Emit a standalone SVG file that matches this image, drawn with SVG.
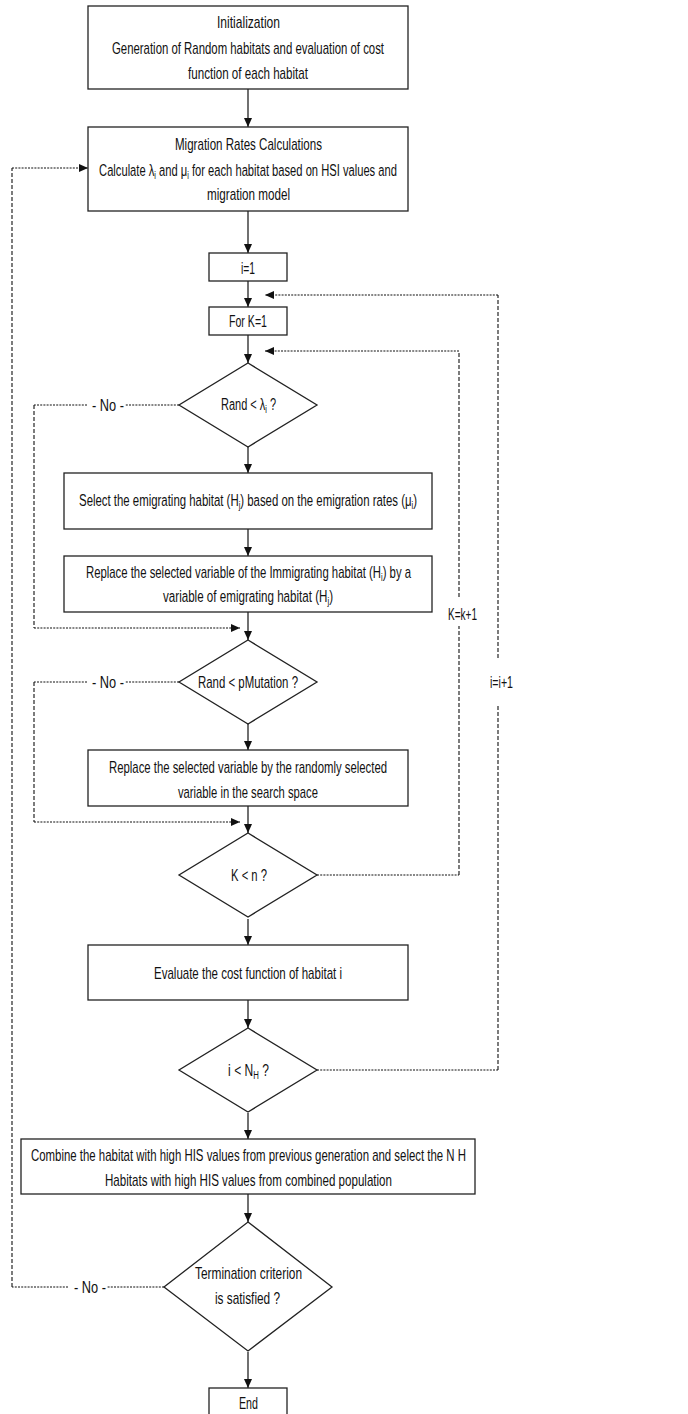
<svg xmlns="http://www.w3.org/2000/svg" width="688" height="1414" viewBox="0 0 688 1414">
<style>
.box{fill:#fff;stroke:#222;stroke-width:1.3}
.t{font-family:"Liberation Sans",Arial,sans-serif;font-size:17px;fill:#111;text-anchor:middle}
.s{font-size:11px}
.c{fill:none;stroke:#111;stroke-width:1.2}
.d{fill:none;stroke:#111;stroke-width:1.2;stroke-dasharray:2 1.2}
.dv{fill:none;stroke:#111;stroke-width:1.1;stroke-dasharray:4 2}
</style>
<defs>
<marker id="ah" markerWidth="9" markerHeight="8" refX="9" refY="4" orient="auto" markerUnits="userSpaceOnUse">
<path d="M0,0 L9,4 L0,8 Z" fill="#111"/>
</marker>
</defs>
<rect width="688" height="1414" fill="#fff"/>

<g id="connectors">
<path class="c" d="M248,89 V127" marker-end="url(#ah)"/>
<path class="c" d="M248,211 V253" marker-end="url(#ah)"/>
<path class="c" d="M248,281 V307" marker-end="url(#ah)"/>
<path class="c" d="M248,335 V363" marker-end="url(#ah)"/>
<path class="c" d="M248,447 V473" marker-end="url(#ah)"/>
<path class="c" d="M248,529 V556" marker-end="url(#ah)"/>
<path class="c" d="M248,612 V640" marker-end="url(#ah)"/>
<path class="c" d="M248,724 V750" marker-end="url(#ah)"/>
<path class="c" d="M248,806 V833" marker-end="url(#ah)"/>
<path class="c" d="M248,919 V945" marker-end="url(#ah)"/>
<path class="c" d="M248,1000 V1028" marker-end="url(#ah)"/>
<path class="c" d="M248,1113 V1139" marker-end="url(#ah)"/>
<path class="c" d="M248,1194 V1222" marker-end="url(#ah)"/>
<path class="c" d="M248,1352 V1388" marker-end="url(#ah)"/>

<path class="d" d="M164,1287 H107"/>
<path class="d" d="M68,1287 H12"/>
<path class="dv" d="M12,1287 V168"/>
<path class="d" d="M12,168 H88" marker-end="url(#ah)"/>
<text class="t" x="90" y="1293" textLength="32" lengthAdjust="spacingAndGlyphs">- No -</text>

<path class="d" d="M317,1070 H498"/>
<path class="dv" d="M498,1070 V705"/>
<path class="dv" d="M498,658 V295"/>
<path class="d" d="M498,295 H265" marker-end="url(#ah)"/>
<text class="t" x="501.5" y="688" textLength="23" lengthAdjust="spacingAndGlyphs">i=i+1</text>

<path class="d" d="M317,875 H459"/>
<path class="dv" d="M459,875 V626"/>
<path class="dv" d="M459,597 V351"/>
<path class="d" d="M459,351 H265" marker-end="url(#ah)"/>
<text class="t" x="462.5" y="620" textLength="29" lengthAdjust="spacingAndGlyphs">K=k+1</text>

<path class="d" d="M179,405 H125"/>
<path class="d" d="M87,405 H34"/>
<path class="dv" d="M34,405 V628"/>
<path class="d" d="M34,628 H240" marker-end="url(#ah)"/>
<text class="t" x="108" y="411" textLength="32" lengthAdjust="spacingAndGlyphs">- No -</text>

<path class="d" d="M179,682 H125"/>
<path class="d" d="M87,682 H34"/>
<path class="dv" d="M34,682 V822"/>
<path class="d" d="M34,822 H240" marker-end="url(#ah)"/>
<text class="t" x="108" y="688" textLength="32" lengthAdjust="spacingAndGlyphs">- No -</text>
</g>

<g id="init">
<rect class="box" x="88" y="6" width="320" height="83"/>
<text class="t" x="248.5" y="28" textLength="63" lengthAdjust="spacingAndGlyphs">Initialization</text>
<text class="t" x="248" y="54" textLength="272" lengthAdjust="spacingAndGlyphs">Generation of Random habitats and evaluation of cost</text>
<text class="t" x="248" y="79" textLength="120" lengthAdjust="spacingAndGlyphs">function of each habitat</text>
</g>

<g id="migration">
<rect class="box" x="88" y="127" width="320" height="84"/>
<text class="t" x="248.5" y="150" textLength="147" lengthAdjust="spacingAndGlyphs">Migration Rates Calculations</text>
<text class="t" transform="translate(248,176) scale(0.68,1)" x="0" y="0" textLength="438" lengthAdjust="spacingAndGlyphs">Calculate λ<tspan class="s" dy="3">i</tspan><tspan dy="-3"> and μ</tspan><tspan class="s" dy="3">i</tspan><tspan dy="-3"> for each habitat based on HSI values and</tspan></text>
<text class="t" x="248.5" y="200" textLength="83" lengthAdjust="spacingAndGlyphs">migration model</text>
</g>

<g id="i1">
<rect class="box" x="209" y="253" width="78" height="28"/>
<text class="t" x="248" y="274" textLength="14" lengthAdjust="spacingAndGlyphs">i=1</text>
</g>

<g id="k1">
<rect class="box" x="209" y="307" width="78" height="28"/>
<text class="t" x="248" y="327" textLength="38" lengthAdjust="spacingAndGlyphs">For K=1</text>
</g>

<g id="randLambda">
<path class="box" d="M248,363 L317,405 L248,447 L179,405 Z"/>
<text class="t" transform="translate(248.5,410) scale(0.68,1)" x="0" y="0" textLength="81" lengthAdjust="spacingAndGlyphs">Rand &lt; λ<tspan class="s" dy="3">i</tspan><tspan dy="-3"> ?</tspan></text>
</g>

<g id="selectEmig">
<rect class="box" x="64" y="473" width="368" height="56"/>
<text class="t" transform="translate(248,506) scale(0.68,1)" x="0" y="0" textLength="497" lengthAdjust="spacingAndGlyphs">Select the emigrating habitat (H<tspan class="s" dy="3">j</tspan><tspan dy="-3">) based on the emigration rates (μ</tspan><tspan class="s" dy="3">i</tspan><tspan dy="-3">)</tspan></text>
</g>

<g id="replaceImmig">
<rect class="box" x="64" y="556" width="368" height="56"/>
<text class="t" transform="translate(248.5,578) scale(0.64,1)" x="0" y="0" textLength="508" lengthAdjust="spacingAndGlyphs">Replace the selected variable of the Immigrating habitat (H<tspan class="s" dy="3">i</tspan><tspan dy="-3">) by a</tspan></text>
<text class="t" transform="translate(248,602) scale(0.68,1)" x="0" y="0" textLength="250" lengthAdjust="spacingAndGlyphs">variable of emigrating habitat (H<tspan class="s" dy="3">j</tspan><tspan dy="-3">)</tspan></text>
</g>

<g id="randMut">
<path class="box" d="M248,640 L317,682 L248,724 L179,682 Z"/>
<text class="t" x="248" y="688" textLength="100" lengthAdjust="spacingAndGlyphs">Rand &lt; pMutation ?</text>
</g>

<g id="replaceRandom">
<rect class="box" x="88" y="750" width="320" height="56"/>
<text class="t" x="248" y="773" textLength="278" lengthAdjust="spacingAndGlyphs">Replace the selected variable by the randomly selected</text>
<text class="t" x="248" y="798" textLength="140" lengthAdjust="spacingAndGlyphs">variable in the search space</text>
</g>

<g id="kLessN">
<path class="box" d="M248,833 L317,875 L248,917 L179,875 Z"/>
<text class="t" x="249" y="881" textLength="36" lengthAdjust="spacingAndGlyphs">K &lt; n ?</text>
</g>

<g id="evaluate">
<rect class="box" x="88" y="945" width="320" height="55"/>
<text class="t" x="248" y="979" textLength="188" lengthAdjust="spacingAndGlyphs">Evaluate the cost function of habitat i</text>
</g>

<g id="iLessNH">
<path class="box" d="M248,1028 L317,1070 L248,1112 L179,1070 Z"/>
<text class="t" transform="translate(248.5,1076) scale(0.68,1)" x="0" y="0" textLength="60" lengthAdjust="spacingAndGlyphs">i &lt; N<tspan class="s" dy="3">H</tspan><tspan dy="-3"> ?</tspan></text>
</g>

<g id="combine">
<rect class="box" x="21" y="1139" width="454" height="55"/>
<text class="t" x="248.5" y="1161" textLength="435" lengthAdjust="spacingAndGlyphs">Combine the habitat with high HIS values from previous  generation and select the N H</text>
<text class="t" x="248.5" y="1186" textLength="287" lengthAdjust="spacingAndGlyphs">Habitats with high HIS values from combined  population</text>
</g>

<g id="termination">
<path class="box" d="M248,1222 L332,1287 L248,1351 L164,1287 Z"/>
<text class="t" x="248.5" y="1279" textLength="107" lengthAdjust="spacingAndGlyphs">Termination criterion</text>
<text class="t" x="247.5" y="1304" textLength="65" lengthAdjust="spacingAndGlyphs">is satisfied  ?</text>
</g>

<g id="end">
<rect class="box" x="209" y="1388" width="78" height="32"/>
<text class="t" x="248.5" y="1409" textLength="19" lengthAdjust="spacingAndGlyphs">End</text>
</g>
</svg>
